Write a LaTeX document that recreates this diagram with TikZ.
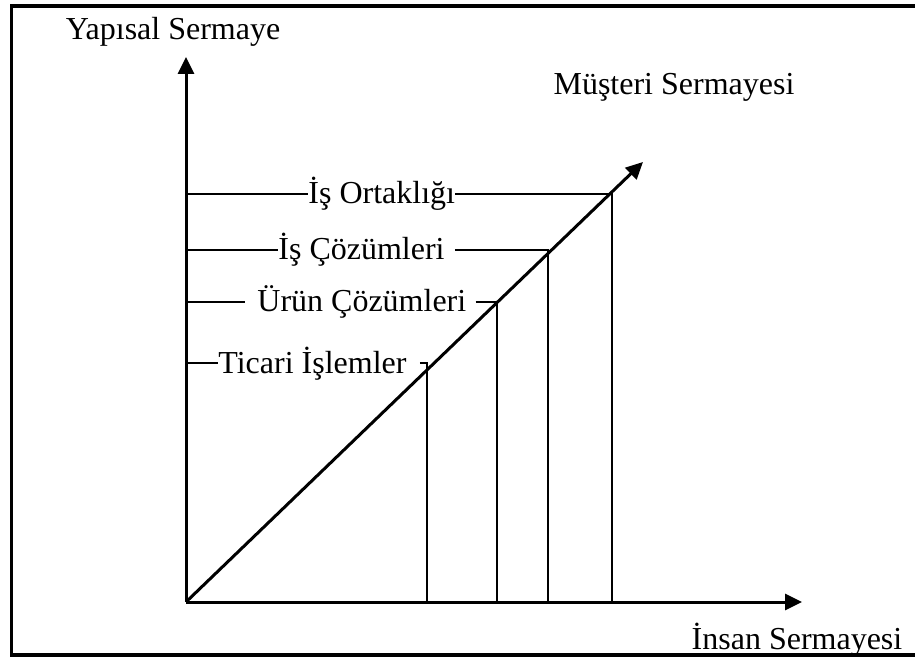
\documentclass[tikz,border=0pt]{standalone}
\usepackage{fontspec}
\setmainfont{Liberation Serif}
\usepackage{tikz}
\usetikzlibrary{arrows.meta,positioning,calc}
\tikzset{
  axis/.style={-{Triangle[length=8.5pt,width=8pt]}, line width=1.5pt},
  guide/.style={line width=1pt},
  frame/.style={line width=1.75pt},
  lbl/.style={inner sep=0pt, anchor=base west, font=\fontsize{16}{19}\selectfont},
  axlabel/.style={inner sep=0pt, anchor=base, font=\fontsize{16}{19}\selectfont}
}

\begin{document}
\begin{tikzpicture}[x=0.5pt,y=-0.5pt]
  \useasboundingbox (0,0) rectangle (915,657);
  \clip (0,0) rectangle (915,657);
  \draw[frame] (11.5,6) rectangle (930,655);

  \coordinate (o) at (186,602);
  \coordinate (ytip) at (186,57);
  \coordinate (xtip) at (802,602);
  \coordinate (dtip) at (643,162);

  \draw[axis] (o) -- (ytip);
  \draw[axis] (o) -- (xtip);
  \draw[axis] (o) -- (dtip);

  \node[axlabel] (yapisal) at (173,40) {Yapısal Sermaye};
  \node[axlabel] (musteri) at (674,95) {Müşteri Sermayesi};
  \node[axlabel] (insan) at (797,649) {İnsan Sermayesi};

  % corners of the steps
  \coordinate (d1) at (427,363);
  \coordinate (d2) at (497,302);
  \coordinate (d3) at (548,250);
  \coordinate (d4) at (612,194);

  \node[lbl] (ticari) at (218,373) {Ticari İşlemler};
  \node[lbl] (urun) at (257,312) {Ürün Çözümleri};
  \node[lbl] (cozum) at (278,260) {İş Çözümleri};
  \node[lbl] (ortak) at (308,204) {İş Ortaklığı};

  \draw[guide] (o |- d1) -- (ticari.west |- d1);
  \draw[guide] ($(ticari.east |- d1)+(6.5pt,0)$) -- (d1) -- (d1 |- o);
  \draw[guide] (o |- d2) -- ($(urun.west |- d2)+(-6pt,0)$);
  \draw[guide] ($(urun.east |- d2)+(4.5pt,0)$) -- (d2) -- (d2 |- o);
  \draw[guide] (o |- d3) -- (cozum.west |- d3);
  \draw[guide] ($(cozum.east |- d3)+(5pt,0)$) -- (d3) -- (d3 |- o);
  \draw[guide] (o |- d4) -- (ortak.west |- d4);
  \draw[guide] (ortak.east |- d4) -- (d4) -- (d4 |- o);
\end{tikzpicture}
\end{document}
